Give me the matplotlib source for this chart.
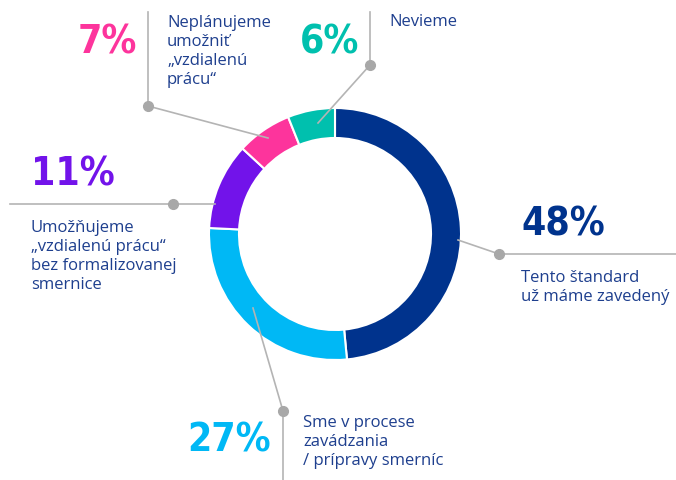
import matplotlib
matplotlib.use('Agg')
import matplotlib.pyplot as plt

# data
shares = [48, 27, 11, 7, 6]
pct_labels = ['48%', '27%', '11%', '7%', '6%']
answers = [
    'Tento štandard\nuž máme zavedený',
    'Sme v procese\nzavádzania\n/ prípravy smerníc',
    'Umožňujeme\n„vzdialenú prácu“\nbez formalizovanej\nsmernice',
    'Neplánujeme\numožniť\n„vzdialenú\nprácu“',
    'Nevieme',
]
colors = ['#00338D', '#00B8F5', '#7213EA', '#FD349C', '#00C0AE']

text_col = '#1E3F8E'
line_col = '#B4B4B4'
dot_col = '#A8A8A8'

fig = plt.figure(figsize=(6.76, 4.8), dpi=100)
ax = fig.add_axes([0, 0, 1, 1])

# axis in pixel units, y pointing down -> angles run the other way
ax.pie(shares, colors=colors, center=(335, 234), radius=126,
       startangle=-90, counterclock=True,
       wedgeprops=dict(width=30, edgecolor='white', linewidth=1.5))
ax.set_xlim(0, 676)
ax.set_ylim(480, 0)
ax.set_aspect('equal')
ax.axis('off')

big = dict(family=['DejaVu Sans'], fontstretch='condensed', fontweight='bold',
           fontsize=28, va='baseline')
small = dict(family=['Open Sans', 'DejaVu Sans'], fontsize=12, color=text_col,
             va='top', ha='left', linespacing=1.25)

# (pct x, pct baseline, pct align, label x, label y, leader polyline, dot)
layout = [
    (521, 235, 'left', 521, 270, [(458, 240), (499, 254), (676, 254)], (499, 254)),
    (271, 452, 'right', 303, 415, [(253, 308), (283, 411), (283, 480)], (283, 411)),
    (31, 185, 'left', 31, 220, [(215, 204), (173, 204), (10, 204)], (173, 204)),
    (137, 53, 'right', 167, 15, [(268, 138), (148, 106), (148, 12)], (148, 106)),
    (359, 53, 'right', 389, 14, [(318, 123), (370, 65), (370, 12)], (370, 65)),
]

for i, (px, py, pa, lx, ly, pts, dot) in enumerate(layout):
    xs = [p[0] for p in pts]
    ys = [p[1] for p in pts]
    ax.plot(xs, ys, color=line_col, lw=1.2, zorder=3)
    ax.plot(dot[0], dot[1], 'o', color=dot_col, ms=7, zorder=4)
    ax.text(px, py, pct_labels[i], color=colors[i], ha=pa, **big)
    ax.text(lx, ly, answers[i], **small)

fig.savefig('out.png', dpi=100)
